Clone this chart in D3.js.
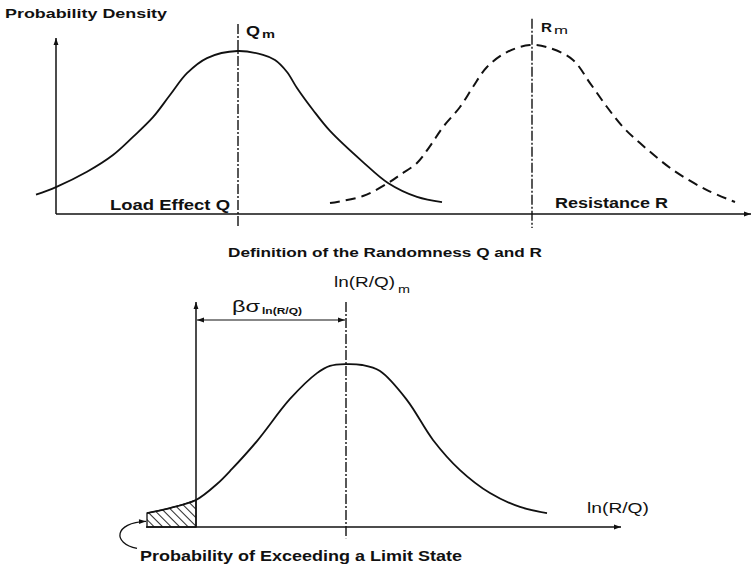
<!DOCTYPE html>
<html>
<head>
<meta charset="utf-8">
<script src="https://cdn.jsdelivr.net/npm/d3@7"></script>
<style>
  body { margin: 0; background: #fff; }
  text { font-family: "Liberation Sans", Arial, sans-serif; fill: #111; }
</style>
</head>
<body>
<div id="chart-area"></div>
<script>
// top panel: load effect Q (solid) and resistance R (dashed)
const loadX = [-4, 0, 6.2, 11.4, 15.4, 19.4, 22.8, 26.2, 30.2, 36.3, 41.4, 43.8, 46.2, 48.2, 51.4, 54.8, 61.4, 66.4, 72.2, 77.2]
const loadY = [11, 15.3, 24, 33.5, 43.8, 55, 67.6, 80, 88.6, 92.6, 90.4, 87.5, 80.7, 71.6, 59.1, 47.2, 29.5, 17.6, 9.7, 6.8]
const resX = [54.8, 61.4, 66.4, 68.8, 72.2, 74.8, 77.4, 80.8, 83.4, 86.2, 90.2, 94.8, 98.8, 103.4, 106.8, 110.2, 113.4, 116.8, 123.4, 130.2, 135.8]
const resY = [6.2, 10.2, 17.6, 22.2, 29, 38.6, 49.4, 60.8, 72.2, 83.5, 92, 96, 94.3, 87.5, 74.4, 60.8, 49.4, 40.3, 25, 13.6, 6.8]
const loadMean = 36.4, resMean = 95.2

// bottom panel: ln(R/Q)
const lnX = [-9.8, -5.2, 0, 4.2, 7.2, 12.2, 18.8, 24.2, 26.8, 30, 33.2, 36.8, 42.2, 47.4, 52.8, 58.8, 64.8, 70.2]
const lnY = [6.2, 8.4, 12, 19.1, 25.8, 38.2, 56.9, 68.4, 71.6, 72.4, 72, 69.3, 56.4, 38.7, 25.3, 15.1, 8.9, 6.2]
const lnMean = 30, limitState = 0

const width = 754, height = 569

const svg = d3.select("#chart-area").append("svg")
    .attr("width", width)
    .attr("height", height)

svg.append("rect").attr("width", width).attr("height", height).attr("fill", "#fff")

const defs = svg.append("defs")
defs.append("marker")
    .attr("id", "arrow")
    .attr("viewBox", "0 0 10 10")
    .attr("refX", 10).attr("refY", 5)
    .attr("markerWidth", 8).attr("markerHeight", 7)
    .attr("markerUnits", "userSpaceOnUse")
    .attr("orient", "auto-start-reverse")
  .append("path")
    .attr("d", "M0,1.5L10,5L0,8.5Z")
    .attr("fill", "#111")

const hatch = defs.append("pattern")
    .attr("id", "hatch")
    .attr("patternUnits", "userSpaceOnUse")
    .attr("width", 6).attr("height", 6)
    .attr("patternTransform", "rotate(-45)")
hatch.append("line")
    .attr("x1", 0).attr("y1", 0).attr("x2", 0).attr("y2", 6)
    .attr("stroke", "#111").attr("stroke-width", 1.8)

// scales
const topX = d3.scaleLinear().domain([0, 139]).range([56, 751])
const topY = d3.scaleLinear().domain([0, 100]).range([214, 38])
const botX = d3.scaleLinear().domain([-10, 85]).range([146, 621])
const botY = d3.scaleLinear().domain([0, 100]).range([527, 302])

const ink = "#111"

function axisLine(x1, y1, x2, y2, w) {
    svg.append("line")
        .attr("x1", x1).attr("y1", y1).attr("x2", x2).attr("y2", y2)
        .attr("stroke", ink).attr("stroke-width", w || 1.5)
        .attr("marker-end", "url(#arrow)")
}

function dashDot(x, y1, y2) {
    svg.append("line")
        .attr("x1", x).attr("x2", x).attr("y1", y1).attr("y2", y2)
        .attr("stroke", ink).attr("stroke-width", 1.4)
        .attr("stroke-dasharray", "10,2,2,2")
}

function label(txt, x, y, size, weight, len) {
    const t = svg.append("text")
        .attr("x", x).attr("y", y)
        .attr("font-size", size + "px")
        .attr("font-weight", weight)
        .text(txt)
    if (len) t.attr("textLength", len).attr("lengthAdjust", "spacingAndGlyphs")
    return t
}

// ---------- top panel ----------
axisLine(topX(0), topY(0), topX(0), topY(100))
axisLine(topX(0), topY(0), topX(139), topY(0))

dashDot(topX(loadMean), topY(108), topY(-8))
dashDot(topX(resMean), topY(111), topY(-8))

const topLine = d3.line()
    .x(d => topX(d[0]))
    .y(d => topY(d[1]))
    .curve(d3.curveCatmullRom.alpha(0.5))

svg.append("path")
    .attr("d", topLine(d3.zip(loadX, loadY)))
    .attr("fill", "none").attr("stroke", ink).attr("stroke-width", 1.8)

svg.append("path")
    .attr("d", topLine(d3.zip(resX, resY)))
    .attr("fill", "none").attr("stroke", ink).attr("stroke-width", 2)
    .attr("stroke-dasharray", "10,6")

label("Probability Density", 5, 18, 13, "bold", 162)
label("Q", topX(loadMean) + 8, 36, 14, "bold", 14)
label("m", topX(loadMean) + 24, 38, 10, "bold", 13)
label("R", topX(resMean) + 9, 32, 13, "bold", 11)
label("m", topX(resMean) + 22, 34, 10, "normal", 14)
label("Load Effect Q", 110, 210, 14, "bold", 120)
label("Resistance R", 555, 208, 14, "bold", 113)
label("Definition of the Randomness Q and R", 228, 257, 12, "bold", 314)

// ---------- bottom panel ----------
const botLine = d3.line()
    .x(d => botX(d[0]))
    .y(d => botY(d[1]))
    .curve(d3.curveCatmullRom.alpha(0.5))

const lnPts = d3.zip(lnX, lnY)
const tail = lnPts.filter(d => d[0] <= limitState)

svg.append("path")
    .attr("d", d3.area()
        .x(d => botX(d[0]))
        .y0(botY(0))
        .y1(d => botY(d[1]))
        .curve(d3.curveCatmullRom.alpha(0.5))(tail))
    .attr("fill", "url(#hatch)")
    .attr("stroke", ink).attr("stroke-width", 1.3)

svg.append("line")
    .attr("x1", botX(-10)).attr("x2", botX(85))
    .attr("y1", botY(0)).attr("y2", botY(0))
    .attr("stroke", ink).attr("stroke-width", 1.5)
    .attr("marker-end", "url(#arrow)")
axisLine(botX(limitState), botY(0), botX(limitState), botY(100))

dashDot(botX(lnMean), botY(100), botY(-5))

svg.append("path")
    .attr("d", botLine(lnPts))
    .attr("fill", "none").attr("stroke", ink).attr("stroke-width", 1.8)

// beta * sigma dimension arrow
svg.append("line")
    .attr("x1", botX(limitState) + 1).attr("x2", botX(lnMean) - 1)
    .attr("y1", 320).attr("y2", 320)
    .attr("stroke", ink).attr("stroke-width", 1.1)
    .attr("marker-start", "url(#arrow)")
    .attr("marker-end", "url(#arrow)")

label("\u03b2\u03c3", 232, 312, 17, "normal", 28)
label("ln(R/Q)", 262, 314, 9, "bold", 40)
label("ln(R/Q)", 334, 287, 15, "normal", 61)
label("m", 398, 293, 11, "normal", 12)
label("ln(R/Q)", 587, 513, 15, "normal", 62)

// pointer to the hatched tail
const tip = [botX(lnX[0]) - 1, botY(2.5)]
svg.append("path")
    .attr("d", "M" + (tip[0] - 9) + "," + (tip[1] + 27) +
        "C" + (tip[0] - 34) + "," + (tip[1] + 22) + " " +
        (tip[0] - 32) + "," + (tip[1] + 1) + " " + tip[0] + "," + tip[1])
    .attr("fill", "none").attr("stroke", ink).attr("stroke-width", 1.3)
    .attr("marker-end", "url(#arrow)")

label("Probability of Exceeding a Limit State", 140, 561, 14, "bold", 322)
</script>
</body>
</html>
